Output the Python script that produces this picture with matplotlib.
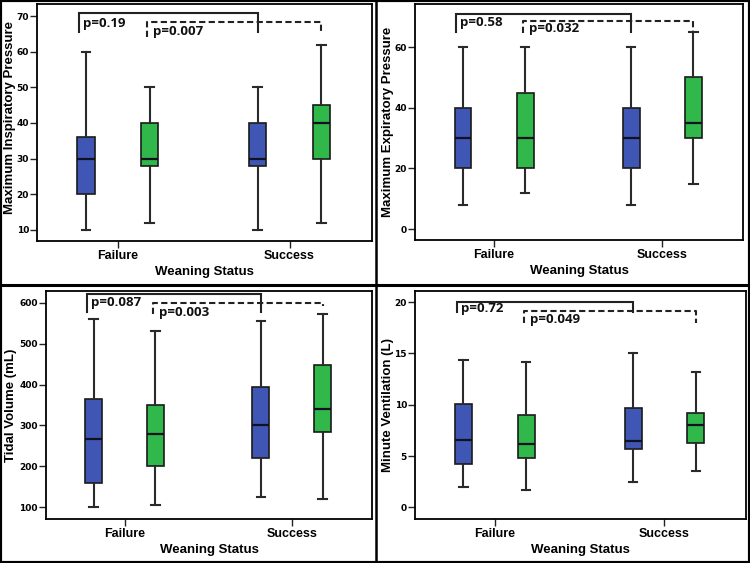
import matplotlib
matplotlib.use("Agg")
import matplotlib.pyplot as plt
from matplotlib.lines import Line2D
from matplotlib.patches import Rectangle

# five-number summaries: whisker low, q1, median, q3, whisker high
# each list = [Failure, Success]
mip_blue = [[10, 20, 30, 36, 60], [10, 28, 30, 40, 50]]
mip_green = [[12, 28, 30, 40, 50], [12, 30, 40, 45, 62]]
mep_blue = [[8, 20, 30, 40, 60], [8, 20, 30, 40, 60]]
mep_green = [[12, 20, 30, 45, 60], [15, 30, 35, 50, 65]]
tv_blue = [[100, 160, 268, 365, 560], [125, 220, 300, 393, 555]]
tv_green = [[105, 200, 280, 350, 530], [120, 285, 340, 447, 572]]
mv_blue = [[2.0, 4.2, 6.6, 10.1, 14.4], [2.5, 5.7, 6.5, 9.7, 15.0]]
mv_green = [[1.7, 4.8, 6.2, 9.0, 14.2], [3.5, 6.3, 8.0, 9.2, 13.2]]

categories = ["Failure", "Success"]
ylabels = ["Maximum Inspiratory Pressure", "Maximum Expiratory Pressure",
           "Tidal Volume (mL)", "Minute Ventilation (L)"]
yticks = [[10, 20, 30, 40, 50, 60, 70], [0, 20, 40, 60],
          [100, 200, 300, 400, 500, 600], [0, 5, 10, 15, 20]]
ylims = [(6.9, 73.4), (-3.6, 74.2), (71.4, 628.6), (-1.14, 21.1)]

p_solid = ["p=0.19", "p=0.58", "p=0.087", "p=0.72"]
p_dashed = ["p=0.007", "p=0.032", "p=0.003", "p=0.049"]
# bracket levels: top, left leg end, right leg end, label y
solid_lv = [(70.8, 65.5, 65.5, 67.8), (70.9, 65.0, 65.0, 68.2),
            (621, 578, 578, 600), (20.06, 19.0, 19.0, 19.4)]
dashed_lv = [(68.2, 64.1, 64.9, 65.8), (68.6, 64.6, 65.3, 66.0),
             (600, 572, 592, 577), (19.1, 18.0, 18.0, 18.3)]

blues = [mip_blue, mep_blue, tv_blue, mv_blue]
greens = [mip_green, mep_green, tv_green, mv_green]

axes_pos = [[0.0493, 0.572, 0.4467, 0.421],
            [0.5533, 0.5737, 0.4373, 0.419],
            [0.0613, 0.0782, 0.4347, 0.405],
            [0.5533, 0.0782, 0.4413, 0.405]]
ylabel_xy = [(-0.081, 0.52), (-0.083, 0.5), (-0.106, 0.5), (-0.082, 0.5)]

BLUE = "#4056b4"
GREEN = "#30b84a"
off = 0.185

fig = plt.figure(figsize=(7.5, 5.63), dpi=100)


def stats(v):
    return dict(whislo=v[0], q1=v[1], med=v[2], q3=v[3], whishi=v[4], fliers=[])


for i in range(4):
    ax = fig.add_axes(axes_pos[i])
    for data, sgn, col in [(blues[i], -1, BLUE), (greens[i], 1, GREEN)]:
        pos = [k + sgn * off for k in range(2)]
        ax.bxp([stats(v) for v in data], positions=pos, widths=0.1,
               patch_artist=True, showfliers=False,
               boxprops=dict(facecolor=col, edgecolor="#1a1a1a", linewidth=1.2),
               medianprops=dict(color="#111122", linewidth=1.6),
               whiskerprops=dict(color="#2a2a2a", linewidth=1.5),
               capprops=dict(color="#2a2a2a", linewidth=1.5),
               capwidths=0.05)

    # brackets
    top, l1, l2, ty = solid_lv[i]
    xa, xb = 0 - off - 0.04, 1 - off
    ax.plot([xa, xa, xb, xb], [l1, top, top, l2], color="#222222", lw=1.5,
            solid_joinstyle="miter")
    ax.text(xa + 0.025, ty, p_solid[i], fontsize=9.5, fontweight="bold",
            family="Open Sans", va="center", ha="left", color="#111111")
    top, l1, l2, ty = dashed_lv[i]
    xa, xb = 0 + off - 0.015, 1 + off
    ax.plot([xa, xa, xb, xb], [l1, top, top, l2], color="#222222", lw=1.5,
            ls=(0, (3, 1.6)))
    ax.text(xa + 0.035, ty, p_dashed[i], fontsize=9.5, fontweight="bold",
            family="Open Sans", va="center", ha="left", color="#111111")

    ax.set_xlim(-0.47, 1.48)
    ax.set_ylim(*ylims[i])
    ax.set_xticks([0, 1])
    ax.set_xticklabels(categories, fontsize=9, fontweight="bold",
                       family="Liberation Sans")
    ax.set_yticks(yticks[i])
    ax.set_yticklabels([str(t) for t in yticks[i]], fontsize=6.5,
                       fontweight="bold")
    ax.tick_params(length=5, width=1, color="#222222", pad=0.8)
    ax.tick_params(axis="x", pad=1.5)
    for s in ax.spines.values():
        s.set_linewidth(1.3)
    ax.set_xlabel("Weaning Status", fontsize=9.5, fontweight="bold",
                  family="Liberation Sans", labelpad=3)
    ax.set_ylabel(ylabels[i], fontsize=9.5, fontweight="bold",
                  family="Liberation Sans", va="center")
    ax.yaxis.set_label_coords(*ylabel_xy[i])

# panel frame lines
fig.add_artist(Line2D([0.5007, 0.5007], [0, 1], color="black", lw=1.8))
fig.add_artist(Line2D([0, 1], [0.4938, 0.4938], color="black", lw=2.2))
fig.add_artist(Rectangle((0, 0), 1, 1, fill=False, edgecolor="black", lw=3,
                         transform=fig.transFigure))

fig.savefig("out.png", dpi=100)
